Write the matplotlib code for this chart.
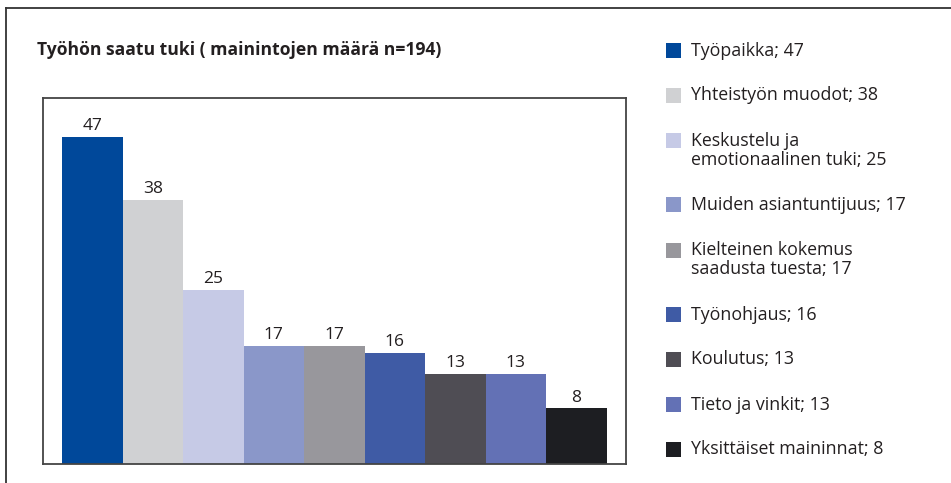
import matplotlib
matplotlib.use("Agg")
import matplotlib.pyplot as plt
from matplotlib.lines import Line2D
from matplotlib.patches import Rectangle

plt.rcParams['font.family'] = ['Open Sans', 'DejaVu Sans']

# data
categories = ["Työpaikka", "Yhteistyön muodot", "Keskustelu ja\nemotionaalinen tuki",
              "Muiden asiantuntijuus", "Kielteinen kokemus\nsaadusta tuesta",
              "Työnohjaus", "Koulutus", "Tieto ja vinkit", "Yksittäiset maininnat"]
values = [47, 38, 25, 17, 17, 16, 13, 13, 8]
colors = ["#00489a", "#d0d1d3", "#c6cae6", "#8a97c9", "#98979c",
          "#3f5ba5", "#4f4d54", "#6371b5", "#1d1e22"]
title = "Työhön saatu tuki ( mainintojen määrä n=194)"

W, H = 951, 483
txtcol = "#231f20"

fig = plt.figure(figsize=(W / 100, H / 100), dpi=100)

# outer frame: top and left lines only
fig.add_artist(Line2D([5.5 / W, 5.5 / W], [0, 1 - 8 / H], color="#333333", lw=1.3))
fig.add_artist(Line2D([5.5 / W, 1], [1 - 8 / H, 1 - 8 / H], color="#333333", lw=1.3))

ax = fig.add_axes([43 / W, 19 / H, 583 / W, 366 / H])
x = range(len(values))
bars = ax.bar(x, values, width=1.0, color=colors, zorder=2)
for xi, v in zip(x, values):
    ax.annotate(str(v), (xi, v), xytext=(0, 2), textcoords="offset points",
                ha="center", va="bottom", fontsize=12.5, color=txtcol)
ax.set_xlim(-0.814, 8.82)
ax.set_ylim(0, 52.6)
ax.set_xticks([])
ax.set_yticks([])
for s in ax.spines.values():
    s.set_color("#444444")
    s.set_linewidth(1.3)
    s.set_zorder(3)

fig.text(37 / W, 1 - 50 / H, title, fontsize=12.6, fontweight="bold",
         color=txtcol, ha="left", va="center")

# legend, drawn by hand so that squares align with the first line
y = 50.5
for lab, v, c in zip(categories, values, colors):
    fig.add_artist(Rectangle((666 / W, 1 - (y + 7.5) / H), 15 / W, 15 / H,
                             facecolor=c, edgecolor="none"))
    first, *rest = lab.split("\n")
    lines = [first] + rest
    lines[-1] = lines[-1] + "; %d" % v
    for k, ln in enumerate(lines):
        fig.text(691 / W, 1 - (y + k * 19.5) / H, ln, fontsize=12.8,
                 color=txtcol, ha="left", va="center")
    y += 45 + 19.5 * (len(lines) - 1)

fig.savefig("out.png", dpi=100)
